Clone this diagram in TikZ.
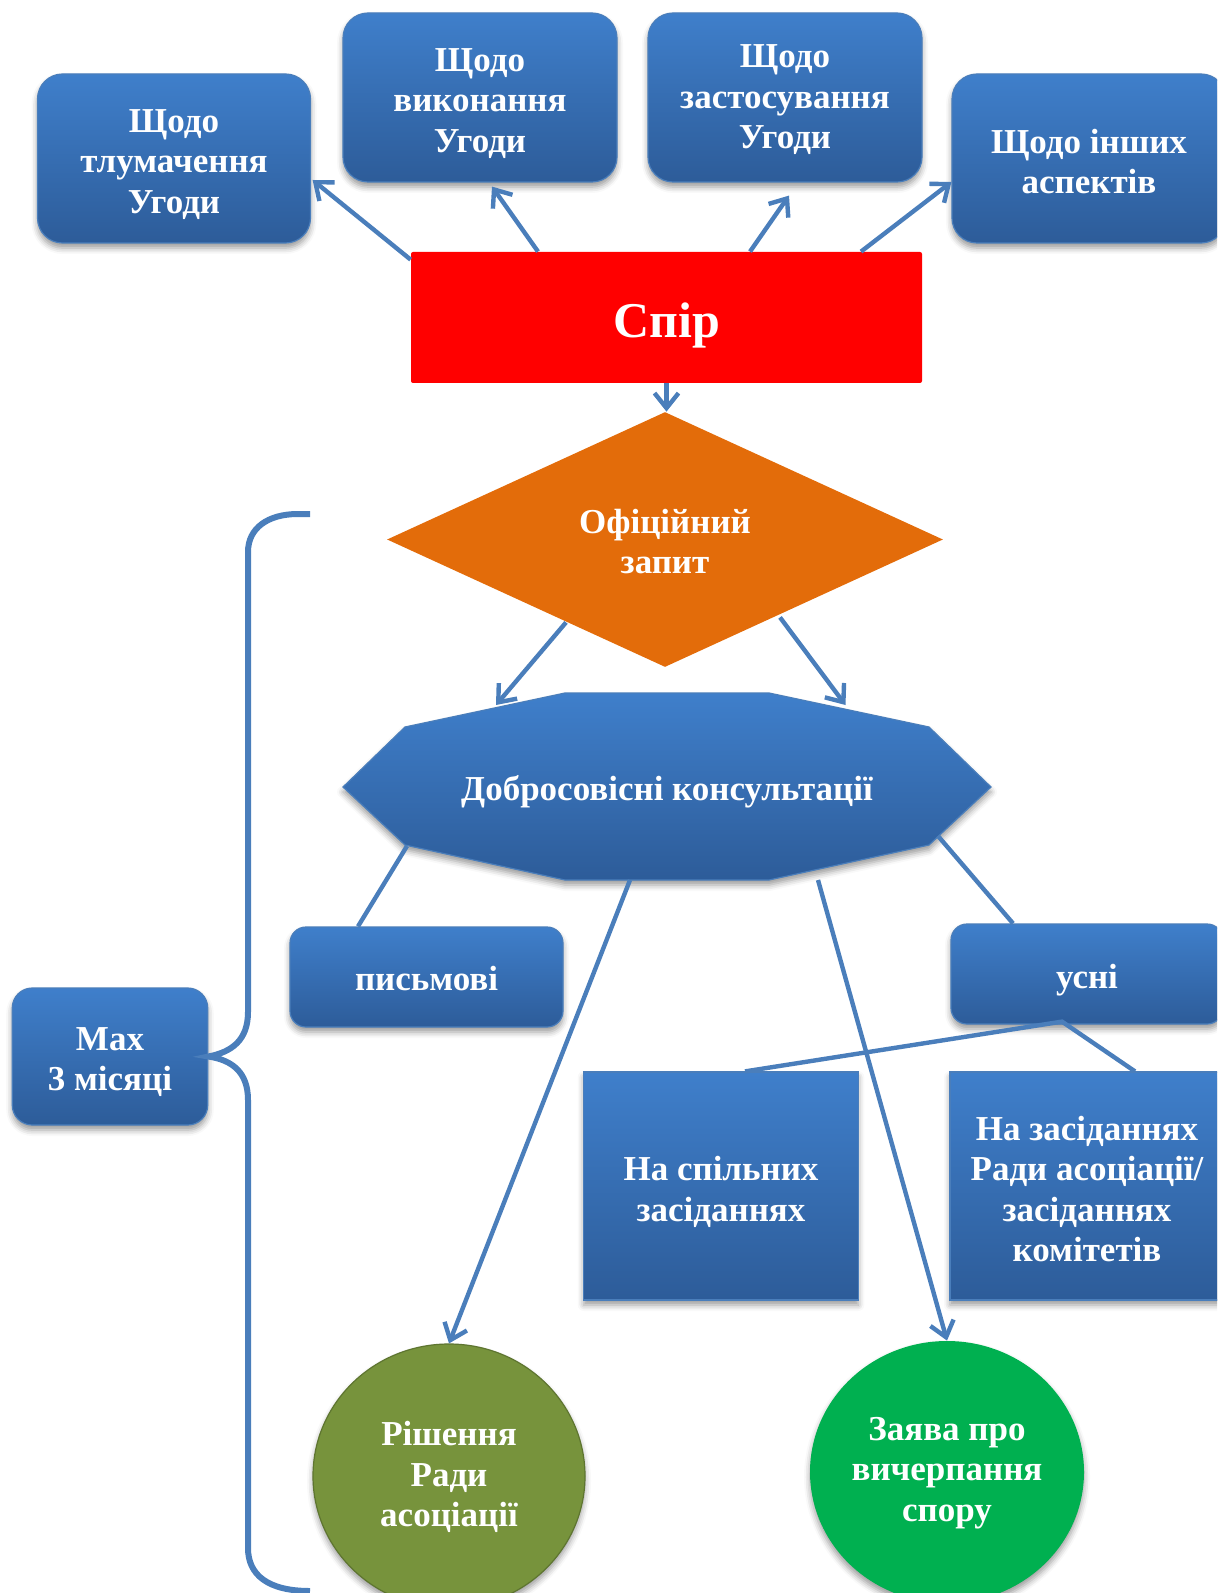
\documentclass[tikz,border=0pt]{standalone}
\usepackage{fontspec}
\setmainfont{Liberation Serif}
\usetikzlibrary{arrows.meta,shapes.geometric,calc,shadows.blur}
\definecolor{btop}{HTML}{3F7FCB}
\definecolor{bbot}{HTML}{2D5C99}
\definecolor{lnc}{HTML}{4A7EBB}
\definecolor{redfill}{HTML}{FF0000}
\definecolor{orangefill}{HTML}{E36C0A}
\definecolor{olivefill}{HTML}{77933C}
\definecolor{olivedraw}{HTML}{5E7530}
\definecolor{greenfill}{HTML}{00B050}
\begin{document}
\begin{tikzpicture}[x=0.5pt,y=-0.5pt,
  txt/.style={text=white,font=\fontsize{17.5}{20.3}\selectfont\bfseries,align=center,inner sep=0pt},
  shd/.style={blur shadow={shadow xshift=0pt,shadow yshift=-2.5pt,shadow blur radius=3pt,shadow opacity=40}},
  bluebox/.style={rectangle,rounded corners=12.5pt,top color=btop,bottom color=bbot,draw=lnc,line width=0.6pt,inner sep=0pt,shd},
  smallbox/.style={bluebox,rounded corners=8pt},
  sqbox/.style={bluebox,rounded corners=0pt},
  conn/.style={draw=lnc,line width=2.2pt},
  arr/.style={conn,-{Straight Barb[length=7.5pt,width=12pt]}},
  bracestyle/.style={draw=lnc,line width=3pt},
]
\clip (0,0) rectangle (1217,1593);
\useasboundingbox (0,0) rectangle (1217,1593);

% octagon shape
\path[top color=btop,bottom color=bbot,draw=lnc,line width=0.6pt,shd]
  (565,693) -- (769,693) -- (929,727) -- (991,787) -- (929,845) -- (769,880)
  -- (565,880) -- (405,845) -- (343,787) -- (405,727) -- cycle;

% nodes
\node[bluebox,minimum width=136.5pt,minimum height=84.5pt,
  label={[txt,yshift=-3pt]center:{Щодо\\тлумачення\\Угоди}}] (b1) at (174,158.5) {};
\node[bluebox,minimum width=137pt,minimum height=84.5pt,
  label={[txt,yshift=-3pt]center:{Щодо\\виконання\\Угоди}}] (b2) at (480,97.5) {};
\node[bluebox,minimum width=137pt,minimum height=84.5pt,
  label={[txt,yshift=-1.2pt]center:{Щодо\\застосування\\Угоди}}] (b3) at (785,97.5) {};
\node[bluebox,minimum width=137pt,minimum height=84.5pt,
  label={[txt,yshift=-1.5pt]center:{Щодо інших\\аспектів}}] (b4) at (1089,158.5) {};
\node[rectangle,fill=redfill,rounded corners=1pt,minimum width=255.5pt,minimum height=65.5pt,inner sep=0pt,
  label={[text=white,font=\fontsize{25}{30}\selectfont\bfseries,inner sep=0pt,yshift=-4pt]center:Спір}] (spir) at (666.5,317.5) {};
\node[diamond,fill=orangefill,minimum width=278pt,minimum height=127.5pt,inner sep=0pt,
  label={[txt,yshift=-1pt]center:{Офіційний\\запит}}] (dia) at (665,539.5) {};
\node[minimum width=324pt,minimum height=93.5pt,inner sep=0pt,
  label={[txt,yshift=-2.5pt]center:{Добросовісні консультації}}] (oct) at (667,786.5) {};
\node[smallbox,minimum width=136.5pt,minimum height=50pt,
  label={[txt,yshift=-1pt]center:{письмові}}] (pys) at (426.5,977) {};
\node[smallbox,minimum width=136pt,minimum height=50pt,
  label={[txt,yshift=-3pt]center:{усні}}] (usni) at (1087,974) {};
\node[sqbox,minimum width=137.25pt,minimum height=114pt,
  label={[txt,yshift=-3pt]center:{На спільних\\засіданнях}}] (spil) at (721,1186) {};
\node[sqbox,minimum width=137pt,minimum height=114pt,
  label={[txt,yshift=-1.5pt]center:{На засіданнях\\Ради асоціації/\\засіданнях\\комітетів}}] (rada) at (1087,1186) {};
\node[bluebox,rounded corners=10pt,minimum width=97.75pt,minimum height=68.5pt,
  label={[txt,yshift=-2.75pt]center:{Max\\3 місяці}}] (max) at (110,1056.5) {};
\node[ellipse,fill=olivefill,draw=olivedraw,line width=0.6pt,minimum width=136pt,minimum height=132pt,inner sep=0pt,shd,
  label={[txt,yshift=-0.5pt]center:{Рішення\\Ради\\асоціації}}] (rish) at (449,1476) {};
\node[ellipse,fill=greenfill,minimum width=137pt,minimum height=131pt,inner sep=0pt,shd,
  label={[txt,yshift=-0.5pt]center:{Заява про\\вичерпання\\спору}}] (zay) at (947,1472) {};

% connectors
\draw[arr] ([yshift=-4pt]spir.north west) -- ([xshift=0.75pt,yshift=-10.75pt]b1.east);
\draw[arr] ([xshift=-64.25pt]spir.north) -- ([xshift=6pt,yshift=-2pt]b2.south);
\draw[arr] ([xshift=41.75pt]spir.north) -- ([xshift=2pt,yshift=-6.5pt]b3.south);
\draw[arr] ([xshift=97.25pt]spir.north) -- ([yshift=-11.75pt]b4.west);
\draw[arr] (spir.south) -- (spir.south |- dia.north);
\draw[arr] ([xshift=-49.5pt,yshift=22.5pt]dia.south) -- ([xshift=-85.5pt,yshift=40.75pt]oct.center);
\draw[arr] ([xshift=57.5pt,yshift=25pt]dia.south) -- ([xshift=89.25pt,yshift=40.75pt]oct.center);
\draw[conn] ([xshift=-130pt,yshift=-29.75pt]oct.center) -- ([xshift=-34.25pt]pys.north);
\draw[conn] ([xshift=135.5pt,yshift=-24.75pt]oct.center) -- ([xshift=-37pt]usni.north);
\draw[arr] ([xshift=-18.5pt,yshift=-46.75pt]oct.center) -- (rish.north);
\draw[arr] ([xshift=75.5pt,yshift=-46.75pt]oct.center) -- (zay.north);
\draw[conn] ([xshift=12pt]spil.north) -- ([xshift=-12.5pt,yshift=1.5pt]usni.south) -- ([xshift=24pt]rada.north);

% brace
\draw[bracestyle] (310,514) -- (298,514) .. controls (268,514) and (248,528) .. (248,552)
  -- (248,1012) .. controls (248,1040) and (232,1052) .. (max.east)
  .. controls (232,1060) and (248,1072) .. (248,1100)
  -- (248,1548) .. controls (248,1575) and (268,1591) .. (310,1591);
\end{tikzpicture}
\end{document}
